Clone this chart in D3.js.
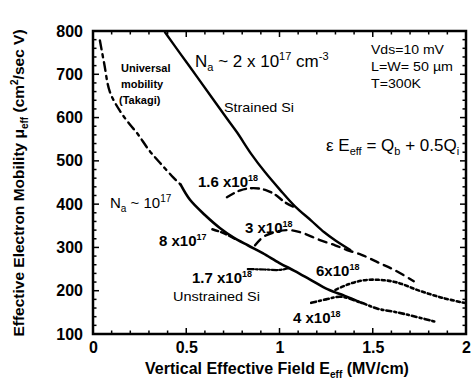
<!DOCTYPE html>
<html><head><meta charset="utf-8">
<script src="https://cdn.jsdelivr.net/npm/d3@7"></script>
<style>
body{margin:0;background:#fff;}
svg text{font-family:"Liberation Sans",Arial,sans-serif;fill:#000;}
</style></head>
<body><svg id="c" width="472" height="380"></svg>
<script>
// Axis ticks
const xTicks = [0, 0.5, 1, 1.5, 2];
const xTickLabels = ["0", "0.5", "1", "1.5", "2"];
const yTicks = [100, 200, 300, 400, 500, 600, 700, 800];

// Curves: [E_eff (MV/cm), mobility (cm2/V s)]
const universal = [[0.037,778],[0.06,725],[0.09,660],[0.145,615],[0.2,583],[0.24,562],[0.3,525],[0.36,495],[0.43,462],[0.47,445]];
const unstrained = [[0.47,445],[0.52,410],[0.6,375],[0.68,345],[0.75,324],[0.83,305],[0.91,287],[1.0,264],[1.08,246],[1.16,227],[1.26,203],[1.35,188],[1.44,172]];
const strained = [[0.386,797],[0.466,749],[0.558,694],[0.643,643],[0.718,598],[0.772,566],[0.85,515],[0.922,474],[1.003,433],[1.083,395],[1.17,362],[1.24,335],[1.3,316],[1.38,294]];
const d16e18 = [[0.718,416],[0.79,432],[0.86,437],[0.93,432],[0.98,421],[1.03,404],[1.08,393]];
const d3e18 = [[0.869,305],[0.912,324],[0.98,336],[1.056,340],[1.126,333],[1.217,317],[1.298,305],[1.362,294],[1.44,283],[1.53,265],[1.62,247],[1.72,222]];
const d8e17 = [[0.64,342],[0.7,333],[0.76,320]];
const d17e18 = [[0.83,250],[0.92,249],[1.0,248],[1.05,252]];
const d6e18 = [[1.3,202],[1.37,215],[1.45,224],[1.54,225],[1.63,219],[1.75,200],[1.87,184],[1.99,172]];
const d4e18 = [[1.17,172],[1.25,180],[1.33,186],[1.44,172],[1.53,158],[1.62,151],[1.72,141],[1.83,129]];

const svg = d3.select("#c");
const x = d3.scaleLinear().domain([0,2]).range([93,466]);
const y = d3.scaleLinear().domain([100,800]).range([334,31]);

// frame
svg.append("rect").attr("x",x(0)).attr("y",y(800)).attr("width",x(2)-x(0)).attr("height",y(100)-y(800))
  .attr("fill","none").attr("stroke","#000").attr("stroke-width",2.5);

// ticks (inward)
const minorX = d3.range(0,2.001,0.1);
const minorY = d3.range(100,800.1,20);
const tg = svg.append("g").attr("stroke","#000");
minorX.forEach(v=>{
  const major = xTicks.some(t=>Math.abs(t-v)<1e-6);
  const L = major?6:3.5;
  tg.append("line").attr("x1",x(v)).attr("x2",x(v)).attr("y1",y(100)).attr("y2",y(100)-L).attr("stroke-width",1.5);
  tg.append("line").attr("x1",x(v)).attr("x2",x(v)).attr("y1",y(800)).attr("y2",y(800)+L).attr("stroke-width",1.5);
});
minorY.forEach(v=>{
  const major = yTicks.includes(Math.round(v));
  const L = major?6:3.5;
  tg.append("line").attr("y1",y(v)).attr("y2",y(v)).attr("x1",x(0)).attr("x2",x(0)+L).attr("stroke-width",1.5);
  tg.append("line").attr("y1",y(v)).attr("y2",y(v)).attr("x1",x(2)).attr("x2",x(2)-L).attr("stroke-width",1.5);
});

// axis labels via d3 axes (text only)
const xAxis = d3.axisBottom(x).tickValues(xTicks).tickFormat((d,i)=>xTickLabels[i]).tickSize(0).tickPadding(8);
const gx = svg.append("g").attr("transform",`translate(0,${y(100)})`).call(xAxis);
gx.select(".domain").remove();
gx.selectAll("text").attr("font-size",16).attr("font-weight","bold").attr("font-family","Liberation Sans, Arial");
const yAxis = d3.axisLeft(y).tickValues(yTicks).tickSize(0).tickPadding(10);
const gy = svg.append("g").attr("transform",`translate(${x(0)},0)`).call(yAxis);
gy.select(".domain").remove();
gy.selectAll("text").attr("font-size",16).attr("font-weight","bold").attr("font-family","Liberation Sans, Arial");

// curves
const line = d3.line().x(d=>x(d[0])).y(d=>y(d[1])).curve(d3.curveCatmullRom.alpha(0.5));
function draw(data, dash, w){
  svg.append("path").attr("d",line(data)).attr("fill","none").attr("stroke","#000")
    .attr("stroke-width",w||2.4).attr("stroke-dasharray",dash||null).attr("stroke-linecap","round");
}
draw(universal,"9,5,3,5",2.4);
draw(unstrained,null,2.6);
draw(strained,null,2.4);
draw(d16e18,"8,5",2.4);
draw(d3e18,"8,6",2.4);
draw(d8e17,"6,3",2.4);
draw(d17e18,"6,2,2,2",2.2);
draw(d6e18,"3,3",2.6);
draw(d4e18,"5,3,2,3",2.6);

// annotations
function txt(xp,yp,s,size,weight){
  return svg.append("text").attr("x",xp).attr("y",yp).attr("font-size",size).attr("font-weight",weight||"bold").text(s);
}

txt(121,72,"Universal",11);
txt(121,88,"mobility",11);
txt(119,104,"(Takagi)",11);

let t = svg.append("text").attr("x",195).attr("y",67).attr("font-size",17).attr("font-weight","normal");
t.append("tspan").text("N");
t.append("tspan").attr("dy",4).attr("font-size",11).text("a");
t.append("tspan").attr("dy",-4).text(" ~ 2 x 10");
t.append("tspan").attr("dy",-7).attr("font-size",11).text("17");
t.append("tspan").attr("dy",7).text(" cm");
t.append("tspan").attr("dy",-7).attr("font-size",11).text("-3");

txt(224,112,"Strained Si",13,"normal").attr("textLength",70).attr("lengthAdjust","spacingAndGlyphs");

txt(371,54,"Vds=10 mV",13,"normal").attr("textLength",73).attr("lengthAdjust","spacingAndGlyphs");
txt(371,71,"L=W= 50 µm",13,"normal").attr("textLength",82).attr("lengthAdjust","spacingAndGlyphs");
txt(371,88,"T=300K",13,"normal").attr("textLength",50).attr("lengthAdjust","spacingAndGlyphs");

t = svg.append("text").attr("x",326).attr("y",151).attr("font-size",17).attr("font-weight","normal");
t.append("tspan").text("ε E");
t.append("tspan").attr("dy",4).attr("font-size",11).text("eff");
t.append("tspan").attr("dy",-4).text(" = Q");
t.append("tspan").attr("dy",4).attr("font-size",11).text("b");
t.append("tspan").attr("dy",-4).text(" + 0.5Q");
t.append("tspan").attr("dy",4).attr("font-size",11).text("i");

function lab(xp,yp,base,ex,size){
  const tt = svg.append("text").attr("x",xp).attr("y",yp).attr("font-size",size||15).attr("font-weight","bold");
  tt.append("tspan").text(base);
  tt.append("tspan").attr("dy",-6).attr("font-size",9).text(ex);
}
lab(198,187,"1.6 x10","18");
t = svg.append("text").attr("x",110).attr("y",208).attr("font-size",15).attr("font-weight","normal");
t.append("tspan").text("N");
t.append("tspan").attr("dy",4).attr("font-size",10).text("a");
t.append("tspan").attr("dy",-4).text(" ~ 10");
t.append("tspan").attr("dy",-6).attr("font-size",10).text("17");
lab(245,233,"3 x10","18");
lab(159,246,"8 x10","17");
lab(192,283,"1.7 x10","18");
txt(173,301,"Unstrained Si",13,"normal").attr("textLength",87).attr("lengthAdjust","spacingAndGlyphs");
lab(316,276,"6x10","18");
lab(293,323,"4 x10","18");

// axis titles
t = svg.append("text").attr("x",277).attr("y",374).attr("text-anchor","middle").attr("font-size",16).attr("font-weight","bold");
t.append("tspan").text("Vertical Effective Field E");
t.append("tspan").attr("dy",4).attr("font-size",10).text("eff");
t.append("tspan").attr("dy",-4).text("  (MV/cm)");

t = svg.append("text").attr("transform","translate(24,183) rotate(-90)").attr("text-anchor","middle").attr("font-size",15.5).attr("font-weight","bold");
t.append("tspan").text("Effective Electron Mobility μ");
t.append("tspan").attr("dy",4).attr("font-size",10).text("eff");
t.append("tspan").attr("dy",-4).text("  (cm");
t.append("tspan").attr("dy",-6).attr("font-size",10).text("2");
t.append("tspan").attr("dy",6).text("/sec V)");
</script></body></html>
